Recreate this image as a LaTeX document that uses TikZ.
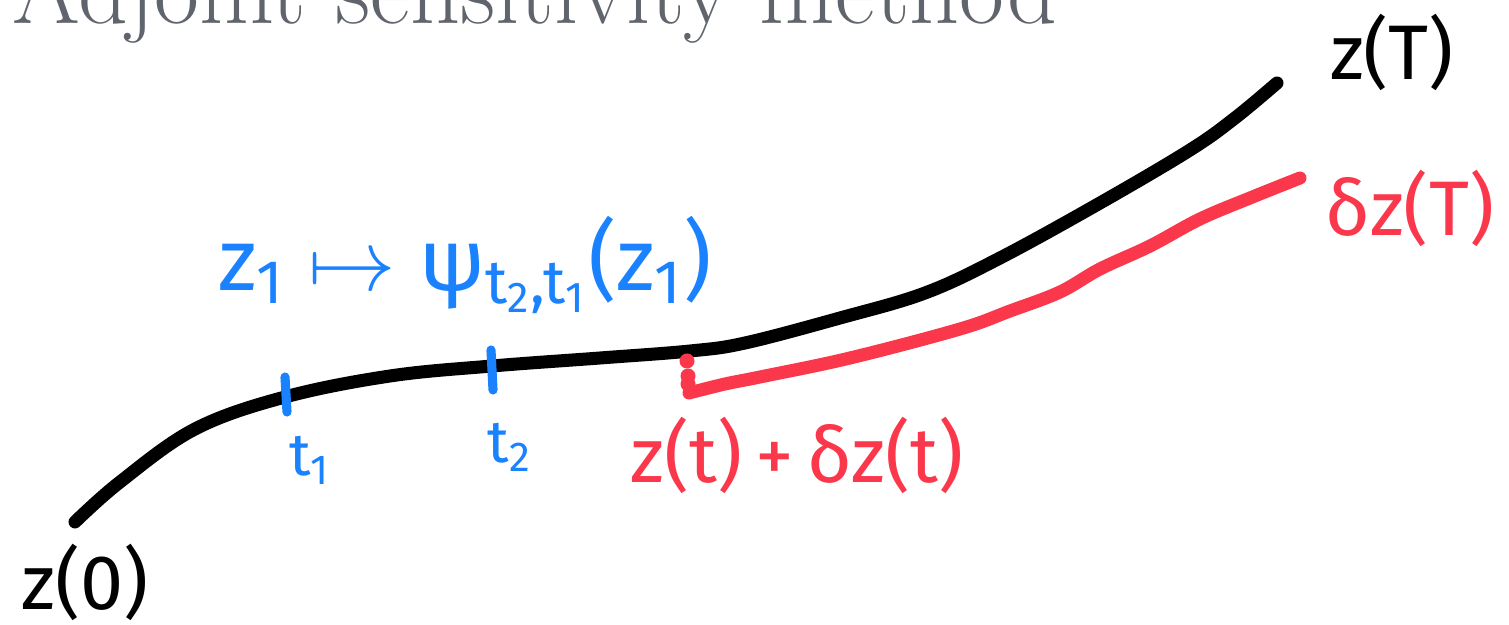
\documentclass[tikz,border=0pt]{standalone}
\usepackage{fontspec}
\newfontfamily\hand{Fira Sans}
\usetikzlibrary{positioning}
\definecolor{handblue}{RGB}{26,130,255}
\definecolor{handred}{RGB}{250,55,75}
\definecolor{titlegray}{RGB}{96,100,108}
\tikzset{
  trajectory/.style = {line width = 3.7pt, line cap = round, line join = round},
  perturbed/.style = {trajectory, draw = handred},
  timetick/.style = {draw = handblue, line width = 2.6pt, line cap = round},
  handlabel/.style = {font = \hand\fontsize{22}{26}\selectfont, inner sep = 0pt},
  ticklabel/.style = {handlabel, text = handblue, font = \hand\fontsize{17}{20}\selectfont},
  dot/.style = {circle, fill = handred, inner sep = 0pt, minimum size = 1.5mm}
}
\begin{document}
\begin{tikzpicture}[x = 0.01cm, y = -0.01cm]
\useasboundingbox (0,0) rectangle (1509,625);

%% Title
\node [anchor = base west, inner sep = 0pt, text = titlegray,
       font = \fontsize{27.8}{32}\selectfont] (title) at (12,24) {Adjoint sensitivity method};

%% Trajectory z(t)
\draw [trajectory] plot [smooth, tension = 0.6] coordinates {
  (75,522) (120,482) (195,429) (285,397) (390,376) (492,366) (600,358)
  (690,351) (745,343) (840,318) (925,293) (1000,258) (1100,203)
  (1190,150) (1235,118) (1277,83)};

%% Perturbed trajectory
\coordinate (start) at (689,393);
\draw [perturbed] plot [smooth, tension = 0.6] coordinates {
  (start) (725,384) (760,377) (850,358) (960,329) (1010,311) (1060,292)
  (1100,269) (1150,246) (1200,219) (1250,198) (1300,178)};
\node [dot] (d1) at (687,361) {};
\node [dot] (d2) at (688,376) {};
\node [dot] (d3) at (688,384) {};

%% Time ticks
\draw [timetick] (285,377) -- (287,412);
\draw [timetick] (491,350) -- (493,390);
\node [ticklabel] (t1) at (310,460) {t\textsubscript{1}};
\node [ticklabel] (t2) at (510,447) {t\textsubscript{2}};

%% Labels
\node [handlabel] (z0) at (85,582) {z(0)};
\node [handlabel] (zT) at (1392,52) {z(T)};
\node [handlabel, text = handred] (dzT) at (1410,208) {δz(T)};
\node [handlabel, text = handred] (zt) at (797,455) {z(t)\,+\,δz(t)};
\node [handlabel, text = handblue, font = \hand\fontsize{25}{30}\selectfont] (flow) at (465,265)
  {z\textsubscript{1} $\mapsto$ ψ\textsubscript{t\textsubscript{2},t\textsubscript{1}}(z\textsubscript{1})};

\end{tikzpicture}
\end{document}
